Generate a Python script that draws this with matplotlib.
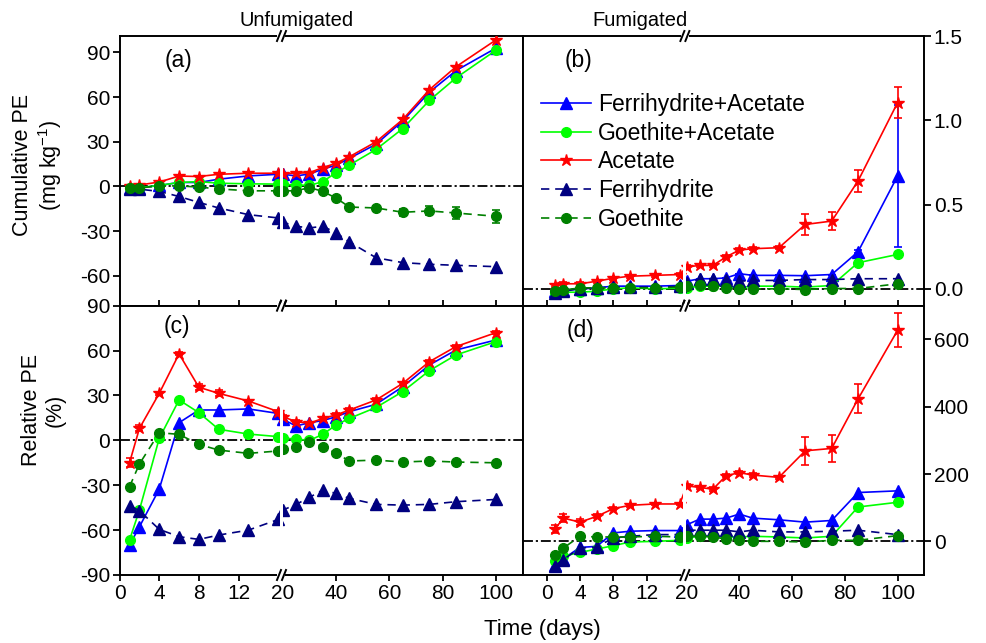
import numpy as np
import matplotlib
matplotlib.use('Agg')
import matplotlib.pyplot as plt
from matplotlib.lines import Line2D

plt.rcParams['font.family'] = ['Liberation Sans', 'DejaVu Sans']
plt.rcParams['mathtext.fontset'] = 'custom'
plt.rcParams['mathtext.rm'] = 'Liberation Sans'
plt.rcParams['mathtext.it'] = 'Liberation Sans:italic'
plt.rcParams['axes.unicode_minus'] = False

# ---------------- data ----------------
DAYS = [1, 2, 4, 6, 8, 10, 13, 16, 20, 25, 30, 35, 40, 45, 55, 65, 75, 85, 100]
XTICKS = [0, 4, 8, 12, 20, 40, 60, 80, 100]
XTICKLABELS = ['0', '4', '8', '12', '20', '40', '60', '80', '100']
LABELS = ['Ferrihydrite+Acetate', 'Goethite+Acetate', 'Acetate', 'Ferrihydrite', 'Goethite']

# (a) Unfumigated, cumulative PE (mg kg-1)
a_FA = [-1, -1, 0.7, 2.7, 2.7, 4.9, 7.1, 8.2, 8.2, 7.1, 8.4, 11.6, 14.4, 18.9, 28.4, 44, 63.3, 77.8, 92.9]
a_GA = [-1, -0.7, 0.7, 2.7, 3.3, 2.2, 1.8, 1.6, 1.4, 1.1, 0.7, 3.3, 9.3, 14.4, 24.9, 38.9, 57.8, 72.9, 91.5]
a_A = [0.5, 1, 3, 7, 6.7, 8.2, 8.9, 8.9, 8.7, 8.9, 9.3, 12.7, 15.6, 20, 30, 45, 65, 80.4, 98.4]
a_F = [-1.6, -1.8, -3.3, -6.7, -10.7, -14.4, -18.9, -21.1, -24, -26.7, -27.8, -26.7, -31.1, -37.3, -47.8, -51.1, -52.2, -52.9, -53.8]
a_G = [-1, -1, 0.4, 0.4, -0.4, -1.6, -2.9, -2.9, -2.9, -2.9, -0.7, -3.3, -7.8, -13.8, -14.4, -17.3, -16.4, -17.8, -20]
a_G_err = [0, 0, 0, 0, 0, 0, 0, 0, 0, 0, 0, 0, 0, 1.5, 1.5, 2.5, 3, 3.8, 4.2]

# (b) Fumigated, cumulative PE (mg kg-1)
b_FA = [-0.014, -0.008, 0, 0.006, 0.016, 0.016, 0.016, 0.02, 0.045, 0.06, 0.06, 0.065, 0.09, 0.08, 0.08, 0.078, 0.085, 0.22, 0.67]
b_GA = [-0.024, -0.02, -0.02, -0.014, 0, 0.006, 0, 0.004, 0.006, 0.016, 0.016, 0.016, 0.006, 0.016, 0.016, 0.01, 0.02, 0.155, 0.204]
b_A = [0.02, 0.03, 0.03, 0.045, 0.063, 0.075, 0.08, 0.085, 0.13, 0.139, 0.139, 0.19, 0.23, 0.238, 0.244, 0.382, 0.402, 0.64, 1.105]
b_F = [-0.024, -0.014, 0, 0.006, 0.01, 0.01, 0.01, 0.015, 0.036, 0.06, 0.06, 0.05, 0.045, 0.05, 0.05, 0.055, 0.055, 0.06, 0.06]
b_G = [-0.014, -0.008, 0.006, 0.006, 0.006, 0.006, 0.006, 0.01, 0.016, 0.02, 0.016, 0.006, 0, 0, 0, -0.004, 0.002, 0.002, 0.03]
b_A_err = [0.01, 0.01, 0.01, 0.01, 0.01, 0.01, 0.01, 0.01, 0.01, 0.01, 0.01, 0.01, 0.01, 0.01, 0.01, 0.06, 0.055, 0.065, 0.09]
b_FA_err = [0, 0, 0, 0, 0, 0, 0, 0, 0, 0, 0, 0, 0, 0, 0, 0, 0, 0.01, 0.42]

# (c) Unfumigated, relative PE (%)
c_FA = [-70, -57.8, -32.6, 11.8, 20.3, 20.3, 21, 18, 14, 9.6, 11.8, 13.2, 15.8, 19.2, 24.1, 35.9, 50.4, 60.4, 67.1]
c_GA = [-66.7, -46.6, 1.3, 27, 18.5, 7.4, 4.2, 2.5, 1.5, 0.9, 0, 4, 10.3, 14.7, 22, 32.6, 46.6, 57.1, 66]
c_A = [-15, 8, 31.4, 57.8, 35.5, 31.4, 26.3, 19.2, 15.8, 12.5, 11.4, 14.7, 17, 20.3, 27, 38.1, 52.6, 62.7, 72]
c_F = [-43.7, -47, -59.5, -64.4, -66.2, -63.3, -60, -52.9, -46.6, -42.8, -38.1, -33.2, -35.5, -38.8, -42.8, -43.3, -42.8, -41, -39.5]
c_G = [-31, -15.8, 5.1, 4, -2.7, -6.5, -8.7, -7.1, -6, -4.2, -0.9, -4.2, -8.7, -13.8, -13.2, -14.5, -13.8, -14.5, -15]
c_A_err = [3, 2, 1, 1, 2, 2, 1, 1, 1, 1, 1, 1, 1, 1, 1, 1, 1, 1, 1]

# (d) Fumigated, relative PE (%)
d_FA = [-69, -52, -18, -15, 25, 30, 32, 32, 49, 66, 66, 69, 81, 69, 64, 57, 62, 145, 150]
d_GA = [-59, -44, -33, -23, -13, -2, 0, 3, 10, 15, 15, 13, 13, 15, 13, 10, 15, 102, 116]
d_A = [36.5, 69, 57, 74, 97, 107, 111, 111, 165, 160, 155, 195, 204, 197, 190, 269, 276, 423, 627]
d_F = [-72, -54, -20, -17, 10, 15, 20, 20, 33, 33, 33, 33, 28, 33, 28, 28, 30, 33, 20]
d_G = [-41, -20, 15, 13, 13, 13, 15, 13, 15, 15, 13, 7, 3, 0, 0, -2, 3, 3, 17]
d_A_err = [12, 12, 8, 6, 5, 5, 4, 4, 5, 5, 5, 5, 5, 5, 5, 42, 40, 43, 50]

# ---------------- styles ----------------
COLORS = ['#0000FF', '#00FF00', '#FF0000', '#000080', '#008000']
MARKERS = ['^', 'o', '*', '^', 'o']
MSIZES = [8, 7, 9, 8, 7]
LSTYLES = ['-', '-', '-', (0, (5, 3.5)), (0, (5, 3.5))]
DRAW_ORDER = [3, 4, 2, 0, 1]

W, H = 986, 643
fig = plt.figure(figsize=(W / 100, H / 100), dpi=100)


def fpos(x0, ytop, x1, ybot):
    return [x0 / W, 1 - ybot / H, (x1 - x0) / W, (ybot - ytop) / H]


def make_scale(r, b, g, s):
    def fwd(x):
        x = np.asarray(x, dtype=float)
        return np.where(x <= b, r * x,
                        np.where(x <= 20, r * b + (x - b) / (20 - b) * g,
                                 r * b + g + s * (x - 20)))

    def inv(y):
        y = np.asarray(y, dtype=float)
        return np.where(y <= r * b, y / r,
                        np.where(y <= r * b + g, b + (y - r * b) / g * (20 - b),
                                 20 + (y - r * b - g) / s))
    return fwd, inv


LEFT_SCALE = dict(r=9.9, b=16.2, g=2.7, s=2.6625, xmin=0.0)
RIGHT_SCALE = dict(r=8.33, b=16.4, g=3.4, s=2.64, xmin=-2.88)

ax_a = fig.add_axes(fpos(119.6, 36, 522.7, 305.7))
ax_b = fig.add_axes(fpos(522.7, 36, 924, 305.7))
ax_c = fig.add_axes(fpos(119.6, 305.7, 522.7, 575))
ax_d = fig.add_axes(fpos(522.7, 305.7, 924, 575))

panels = [
    (ax_a, LEFT_SCALE, [a_FA, a_GA, a_A, a_F, a_G], [None, None, None, None, a_G_err],
     (-80, 101), [-60, -30, 0, 30, 60, 90], None, 'left', True),
    (ax_b, RIGHT_SCALE, [b_FA, b_GA, b_A, b_F, b_G], [b_FA_err, None, b_A_err, None, None],
     (-0.1, 1.5), [0.0, 0.5, 1.0, 1.5], ['0.0', '0.5', '1.0', '1.5'], 'right', True),
    (ax_c, LEFT_SCALE, [c_FA, c_GA, c_A, c_F, c_G], [None, None, c_A_err, None, None],
     (-90, 90), [-90, -60, -30, 0, 30, 60, 90], None, 'left', False),
    (ax_d, RIGHT_SCALE, [d_FA, d_GA, d_A, d_F, d_G], [None, None, d_A_err, None, None],
     (-100, 700), [0, 200, 400, 600], None, 'right', False),
]

for ax, sc, series, errs, ylim, yticks, ylabels, side, top in panels:
    fwd, inv = make_scale(sc['r'], sc['b'], sc['g'], sc['s'])
    ax.set_xscale('function', functions=(fwd, inv))
    ax.set_xlim(sc['xmin'], 110)
    ax.set_ylim(*ylim)
    ax.axhline(0, color='black', lw=1.3, ls=(0, (5.5, 1.6, 1.2, 1.6)), zorder=1.5)
    for i in DRAW_ORDER:
        ax.errorbar(DAYS, series[i], yerr=errs[i], color=COLORS[i], marker=MARKERS[i],
                    ms=MSIZES[i], mec=COLORS[i], ls=LSTYLES[i], lw=1.2,
                    elinewidth=1.2, capsize=3, capthick=1.2, zorder=3 + i * 0.1)
    # break gap
    ax.axvspan(sc['b'] + 0.05, 19.7, color='white', zorder=8, lw=0)

    ax.set_xticks(XTICKS)
    ax.xaxis.set_minor_locator(matplotlib.ticker.NullLocator())
    if top:
        ax.set_xticklabels([])
        ax.tick_params(axis='x', direction='in', length=4, width=1.3)
    else:
        ax.set_xticklabels(XTICKLABELS)
        ax.tick_params(axis='x', direction='out', length=4.5, width=1.3,
                       labelsize=15, pad=2)
    ax.xaxis.get_major_ticks()[4].tick1line.set_visible(False)

    ax.set_yticks(yticks)
    if ylabels is not None:
        ax.set_yticklabels(ylabels)
    ax.yaxis.set_minor_locator(matplotlib.ticker.NullLocator())
    if side == 'right':
        ax.yaxis.tick_right()
    ax.tick_params(axis='y', direction='out', length=5, width=1.3, labelsize=15, pad=2)
    for sp in ax.spines.values():
        sp.set_linewidth(1.4)

    # break marks on top and bottom spines
    x0t, x1t = fwd(sc['xmin']), fwd(110)
    xb = (sc['r'] * sc['b'] + sc['g'] / 2 - x0t) / (x1t - x0t)
    bb = ax.get_position()
    axw, axh = bb.width * W, bb.height * H
    for yb in (0.0, 1.0):
        ax.plot([xb - 4 / axw, xb + 4 / axw], [yb, yb], transform=ax.transAxes,
                color='white', lw=3, clip_on=False, zorder=19, solid_capstyle='butt')
        for c in (-2.5, 2.5):
            ax.plot([xb + (c - 2) / axw, xb + (c + 2) / axw], [yb - 5 / axh, yb + 5 / axh],
                    transform=ax.transAxes, color='black', lw=1.4, clip_on=False, zorder=20)

# panel tags
for tag, (x, y) in zip(['(a)', '(b)', '(c)', '(d)'],
                       [(179, 61), (578, 61), (177, 327), (580, 330)]):
    fig.text(x / W, 1 - y / H, tag, fontsize=16.5, ha='center', va='center')

fig.text(297 / W, 1 - 20 / H, 'Unfumigated', fontsize=14.5, ha='center', va='center')
fig.text(640 / W, 1 - 20 / H, 'Fumigated', fontsize=14.5, ha='center', va='center')
fig.text(38 / W, 1 - 165 / H, 'Cumulative PE\n(mg kg$^{-1}$)', fontsize=15.5, rotation=90,
         ha='center', va='center', multialignment='center', linespacing=1.15)
fig.text(43 / W, 1 - 410 / H, 'Relative PE\n(%)', fontsize=15.5, rotation=90,
         ha='center', va='center', multialignment='center', linespacing=1.15)
fig.text(542 / W, 1 - 629 / H, 'Time (days)', fontsize=16, ha='center', va='center')

handles = [Line2D([], [], color=COLORS[i], marker=MARKERS[i], ms=MSIZES[i], ls=LSTYLES[i],
                  lw=1.2) for i in range(5)]
leg = ax_b.legend(handles, LABELS, loc='upper left', bbox_to_anchor=(540.7 / W, 1 - 93 / H),
                  bbox_transform=fig.transFigure, frameon=False, fontsize=16.5,
                  handlelength=2.2, handletextpad=0.3, labelspacing=0.25, borderpad=0,
                  borderaxespad=0, numpoints=1)
leg.set_zorder(30)

fig.savefig('out.png', dpi=100)
